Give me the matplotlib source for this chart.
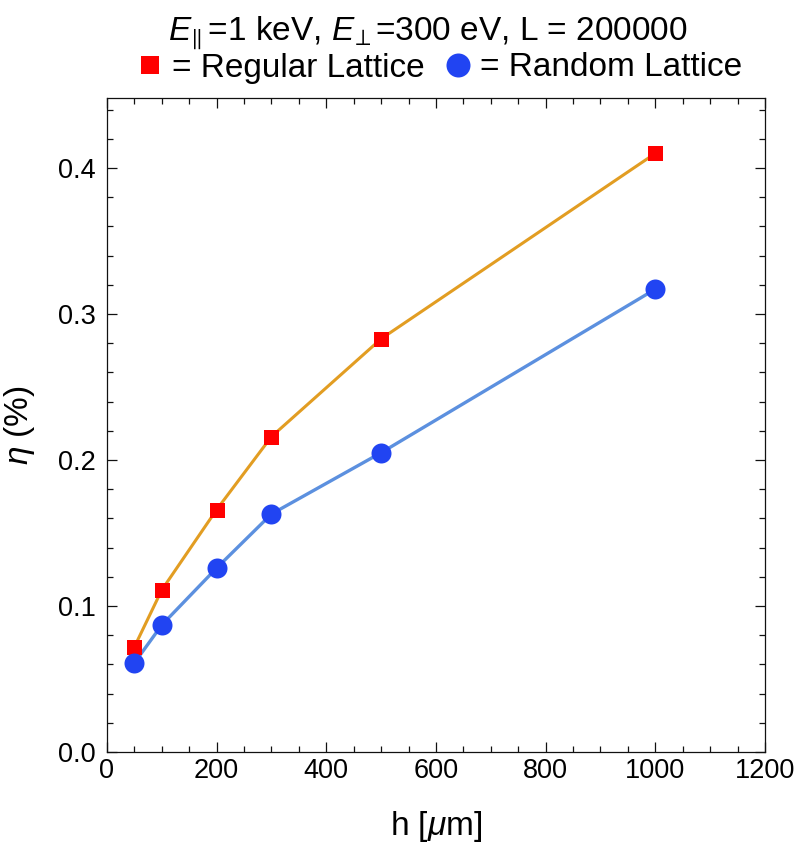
import numpy as np
import matplotlib
matplotlib.use("Agg")
import matplotlib.pyplot as plt
from matplotlib.ticker import MultipleLocator, FormatStrFormatter

plt.rcParams['font.family'] = ['Liberation Sans', 'DejaVu Sans']
plt.rcParams['mathtext.fontset'] = 'custom'
plt.rcParams['mathtext.rm'] = 'Liberation Sans'
plt.rcParams['mathtext.it'] = 'Liberation Sans:italic'
plt.rcParams['mathtext.fallback'] = 'stixsans'

# h in micrometres, eta in percent
h = [50, 100, 200, 300, 500, 1000]
eta_regular = [0.072, 0.111, 0.166, 0.216, 0.283, 0.410]
eta_random = [0.061, 0.087, 0.126, 0.163, 0.205, 0.317]

fig = plt.figure(figsize=(7.96, 8.44), dpi=100)
ax = fig.add_axes([0.1344, 0.109, 0.8266, 0.7743])

# lines first, markers on top
ax.plot(h, eta_regular, color='#E29D22', lw=2.2, zorder=2)
ax.plot(h, eta_random, color='#5C90DF', lw=2.4, zorder=2)
sq, = ax.plot(h, eta_regular, ls='none', marker='s', ms=10.8, color='#FF0000', mew=0, zorder=3)
ci, = ax.plot(h, eta_random, ls='none', marker='o', ms=14.4, color='#2144F2', mew=0, zorder=3)

ax.set_xlim(0, 1200)
ax.set_ylim(0, 0.4476)
ax.xaxis.set_major_locator(MultipleLocator(200))
ax.xaxis.set_minor_locator(MultipleLocator(50))
ax.yaxis.set_major_locator(MultipleLocator(0.1))
ax.yaxis.set_minor_locator(MultipleLocator(0.02))
ax.yaxis.set_major_formatter(FormatStrFormatter('%.1f'))

ax.tick_params(which='both', direction='in', top=True, right=True, width=0.9, color='#111111')
ax.tick_params(which='major', length=7, labelsize=19.5)
ax.tick_params(axis='x', which='major', pad=4)
ax.tick_params(axis='y', which='major', pad=8)
ax.tick_params(which='minor', length=4.5)
for s in ax.spines.values():
    s.set_linewidth(0.9)
    s.set_color('#111111')

ax.set_xlabel(r'h [$\mu$m]', fontsize=24)
ax.set_ylabel(r'$\eta$ (%)', fontsize=24)
ax.xaxis.set_label_coords(0.5, -0.087)
ax.yaxis.set_label_coords(-0.107, 0.5)

fig.text(0.537, 1 - 40 / 844, r'$E_{\!\parallel}$=1 keV, $E_{\!\perp}$=300 eV, L = 200000',
         fontsize=24, ha='center', va='baseline')

fig.legend([sq, ci], ['= Regular Lattice', '= Random Lattice'], ncol=2,
           loc='center', bbox_to_anchor=(0.554, 1 - 68 / 844), frameon=False,
           fontsize=24, markerscale=1.2, handlelength=0.6, handletextpad=0.35,
           columnspacing=0.7, borderpad=0)

fig.savefig('out.png', dpi=100)
